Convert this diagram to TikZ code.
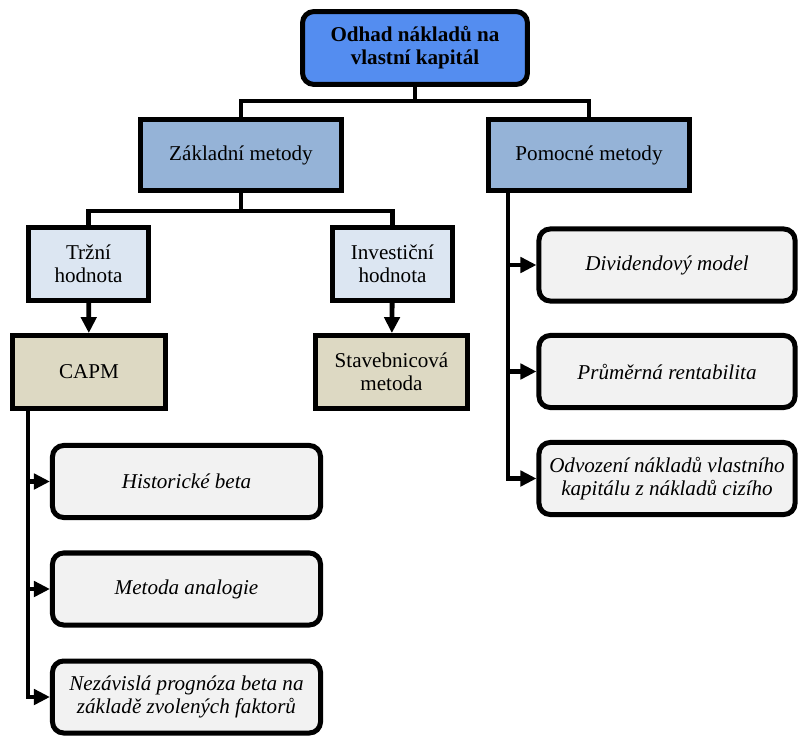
\documentclass[tikz,border=0pt]{standalone}
\usepackage{fontspec}
\setmainfont{Liberation Serif}
\usetikzlibrary{
	arrows.meta,
	calc,
	positioning,
}
\definecolor{rootblue}{RGB}{84,141,240}
\definecolor{methodblue}{RGB}{149,179,215}
\definecolor{valueblue}{RGB}{220,230,242}
\definecolor{modeltan}{RGB}{221,217,195}
\definecolor{leafgray}{RGB}{242,242,242}
\tikzset{box/.style={
	draw,
	line width=0.125cm,
	align=center,
	inner sep=1mm,
	font=\fontsize{15}{16.4}\selectfont,
}}
\tikzset{root box/.style={
	box,
	rounded corners=0.28cm,
	fill=rootblue,
	font=\fontsize{15}{16.4}\selectfont\bfseries,
	minimum width=5.62cm,
	minimum height=1.82cm,
}}
\tikzset{method box/.style={
	box,
	fill=methodblue,
	minimum width=5.0cm,
	minimum height=1.78cm,
}}
\tikzset{value box/.style={
	box,
	fill=valueblue,
	minimum width=3.0cm,
	minimum height=1.82cm,
}}
\tikzset{model box/.style={
	box,
	fill=modeltan,
	minimum width=3.8cm,
	minimum height=1.82cm,
}}
\tikzset{leaf box/.style={
	box,
	rounded corners=0.28cm,
	fill=leafgray,
	font=\fontsize{15}{16.4}\selectfont\itshape,
	minimum height=1.8cm,
}}
\tikzset{link/.style={
	line width=0.12cm,
}}
\tikzset{arrow link/.style={
	link,
	-{Triangle[length=0.4cm,width=0.38cm]},
}}

\begin{document}
\begin{tikzpicture}[x=0.025cm, y=-0.025cm]
\useasboundingbox (0,0) rectangle (799,735);

\node[root box](root)			at (415,48)	{Odhad nákladů na\\vlastní kapitál};

\node[method box](basic)		at (241,155)	{Základní metody};
\node[method box](aux)			at (589,155)	{Pomocné metody};

\node[value box](market)		at (88.5,264)	{Tržní\\hodnota};
\node[value box](invest)		at (392.5,264)	{Investiční\\hodnota};

\node[model box](capm)			at (89,372)	{CAPM};
\node[model box](build)			at (391.5,372)	{Stavebnicová\\metoda};

\node[leaf box, minimum width=6.7cm](hist)	at (186.5,481.5)	{Historické beta};
\node[leaf box, minimum width=6.7cm](analog)	at (186.5,589)	{Metoda analogie};
\node[leaf box, minimum width=6.7cm](factor)	at (186.5,697)	{Nezávislá prognóza beta na\\základě zvolených faktorů};

\node[leaf box, minimum width=6.4cm](divid)	at (667,265)	{Dividendový model};
\node[leaf box, minimum width=6.4cm](yield)	at (667,371.5)	{Průměrná rentabilita};
\node[leaf box, minimum width=6.4cm](debt)	at (667,478.5)	{Odvození nákladů vlastního\\kapitálu z nákladů cizího};

% root -> methods
\coordinate (rootfork) at (415,101);
\draw[link] (root.south) -- (rootfork);
\draw[link] (basic.north) |- (rootfork) -| (aux.north);

% basic -> values
\coordinate (basicfork) at (241,211);
\draw[link] (basic.south) -- (basicfork);
\draw[link] (market.north) |- (basicfork) -| (invest.north);

% values -> models
\draw[arrow link] (market) -- (capm);
\draw[arrow link] (invest) -- (build);

% capm -> leaves
\coordinate (capmtrunk) at (28,411);
\draw[arrow link] (capmtrunk) |- (hist.west);
\draw[arrow link] (capmtrunk) |- (analog.west);
\draw[arrow link] (capmtrunk) |- (factor.west);

% aux -> leaves
\coordinate (auxtrunk) at (508,193);
\draw[arrow link] (auxtrunk) |- (divid.west);
\draw[arrow link] (auxtrunk) |- (yield.west);
\draw[arrow link] (auxtrunk) |- (debt.west);

\end{tikzpicture}
\end{document}
